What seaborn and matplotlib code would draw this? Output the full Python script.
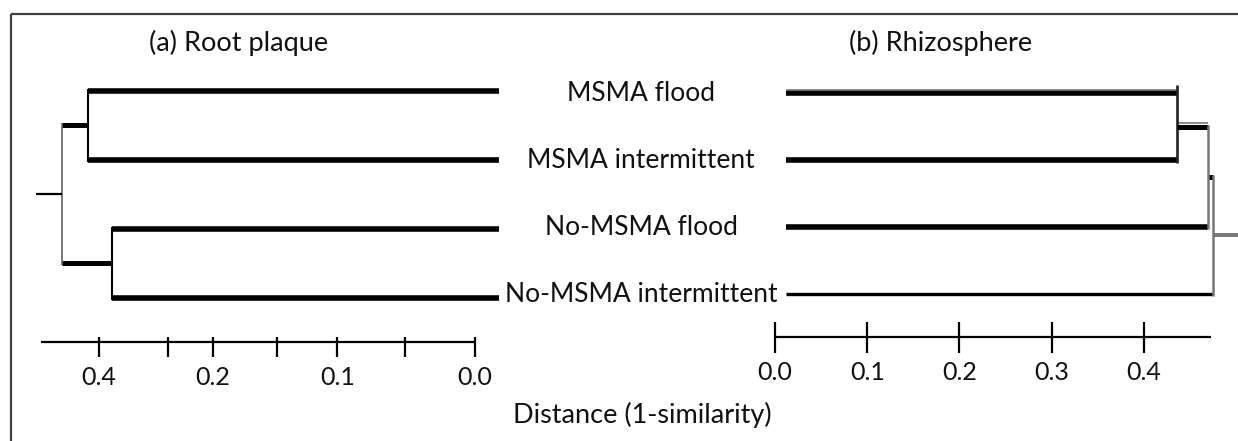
import matplotlib
matplotlib.use("Agg")
import matplotlib.pyplot as plt
from matplotlib.lines import Line2D
import matplotlib.transforms as mtransforms
import pandas as pd
import seaborn as sns

# Treatments, listed top to bottom as the dendrogram leaves
treatments = ["MSMA flood", "MSMA intermittent", "No-MSMA flood", "No-MSMA intermittent"]

# (a) Root plaque: merge heights, distance (1 - similarity)
plaque_msma = 0.412      # MSMA flood + MSMA intermittent
plaque_nomsma = 0.386    # No-MSMA flood + No-MSMA intermittent
plaque_root = 0.439      # both treatment groups

# (b) Rhizosphere: merge heights
rhizo_msma = 0.436       # MSMA flood + MSMA intermittent
rhizo_flood = 0.469      # ... + No-MSMA flood
rhizo_root = 0.475       # ... + No-MSMA intermittent

# Scale bars
plaque_tick_pos = [0.4, 0.327, 0.279, 0.21, 0.146, 0.074, 0.0]
plaque_tick_labels = ["0.4", "", "0.2", "", "0.1", "", "0.0"]
rhizo_tick_pos = [0.0, 0.1, 0.2, 0.3, 0.4]
rhizo_tick_labels = ["0.0", "0.1", "0.2", "0.3", "0.4"]

titles = ["(a) Root plaque", "(b) Rhizosphere"]
xlabel = "Distance (1-similarity)"

sns.set_theme(style="white")
FONT = ["Lato", "DejaVu Sans"]
plt.rcParams["font.family"] = FONT

W, H = 1238, 441
fig = plt.figure(figsize=(W / 100, H / 100), dpi=100)
fig.patch.set_facecolor("white")
fig.patch.set_linewidth(0)

ax_a = fig.add_axes([0, 0, 1, 1])
ax_b = fig.add_axes([0, 0, 1, 1])
for ax in (ax_a, ax_b):
    ax.set_axis_off()
    ax.patch.set_alpha(0)

# left panel runs right-to-left, right panel left-to-right
ax_a.set_xlim(0.5055, -0.8133)
ax_a.set_ylim(5.077, -1.314)
ax_b.set_xlim(-0.8401, 0.5019)
ax_b.set_ylim(5.197, -1.395)

BLACK = "#000000"
DARK = "#222222"
GREY = "#777777"
TEXT = "#111111"

LEAF_A = -0.026   # leaf tips of panel (a), just past the 0.0 tick
LEAF_B = 0.0115   # leaf tips of panel (b)


def segs_to_frame(segs):
    rows = []
    for i, (x0, y0, x1, y1, style) in enumerate(segs):
        rows.append(dict(seg=i, x=x0, y=y0, style=style))
        rows.append(dict(seg=i, x=x1, y=y1, style=style))
    return pd.DataFrame(rows)


STYLES = {
    "leaf": dict(color=BLACK, lw=4.0),
    "leaf_thin": dict(color=BLACK, lw=2.4),
    "link": dict(color=BLACK, lw=3.6),
    "join": dict(color=BLACK, lw=1.5),
    "join_dark": dict(color=DARK, lw=1.9),
    "root": dict(color="#555555", lw=1.1),
    "grey_join": dict(color=GREY, lw=1.8),
    "grey_stub": dict(color=GREY, lw=2.8),
    "stub": dict(color=BLACK, lw=1.6),
    "edge": dict(color=GREY, lw=1.2),
}


def draw(ax, df):
    xl, yl = ax.get_xlim(), ax.get_ylim()
    for style, sub in df.groupby("style", sort=False):
        st = STYLES[style]
        sns.lineplot(data=sub, x="x", y="y", units="seg", estimator=None,
                     sort=False, ax=ax, color=st["color"], linewidth=st["lw"],
                     legend=False, solid_capstyle="butt")
    ax.set_xlim(xl)
    ax.set_ylim(yl)
    ax.set_axis_off()


# ---- (a) Root plaque dendrogram
segs_a = [
    (plaque_msma, 0, LEAF_A, 0, "leaf"),
    (plaque_msma, 1, LEAF_A, 1, "leaf"),
    (plaque_nomsma, 2, LEAF_A, 2, "leaf"),
    (plaque_nomsma, 3, LEAF_A, 3, "leaf"),
    (plaque_msma, -0.03, plaque_msma, 1.03, "join"),
    (plaque_nomsma, 1.97, plaque_nomsma, 3.03, "join"),
    (plaque_root, 0.5, plaque_msma, 0.5, "link"),
    (plaque_root, 2.5, plaque_nomsma, 2.5, "link"),
    (plaque_root, 0.47, plaque_root, 2.53, "root"),
    (plaque_root + 0.028, 1.5, plaque_root, 1.5, "stub"),
]
draw(ax_a, segs_to_frame(segs_a))

# ---- (b) Rhizosphere dendrogram
mid_b1 = 0.5
mid_b2 = (mid_b1 + 2) / 2
mid_b3 = (mid_b2 + 3) / 2
segs_b = [
    (LEAF_B, 0, rhizo_msma, 0, "leaf"),
    (LEAF_B, -0.05, rhizo_msma, -0.05, "edge"),
    (LEAF_B, 1, rhizo_msma, 1, "leaf"),
    (LEAF_B, 2, rhizo_flood, 2, "leaf"),
    (LEAF_B, 3, rhizo_root, 3, "leaf_thin"),
    (rhizo_msma, -0.12, rhizo_msma, 1.04, "join_dark"),
    (rhizo_msma, mid_b1, rhizo_flood, mid_b1, "link"),
    (rhizo_msma, mid_b1 - 0.05, rhizo_flood, mid_b1 - 0.05, "edge"),
    (rhizo_flood, mid_b1 - 0.03, rhizo_flood, 2.03, "grey_join"),
    (rhizo_flood, mid_b2, rhizo_root, mid_b2, "link"),
    (rhizo_root, mid_b2 - 0.03, rhizo_root, 3.03, "grey_join"),
    (rhizo_root, mid_b3, 0.5019, mid_b3, "grey_stub"),
]
draw(ax_b, segs_to_frame(segs_b))

# ---- scale bars
BAR_Y = 3.64
bar_a = [(0.462, BAR_Y, 0.0, BAR_Y, "stub")]
bar_a += [(p, 3.57, p, 3.86, "stub") for p in plaque_tick_pos]
draw(ax_a, segs_to_frame(bar_a))
for p, lab in zip(plaque_tick_pos, plaque_tick_labels):
    if lab:
        ax_a.text(p, 4.16, lab, ha="center", va="center", fontsize=18, color=TEXT)

bar_b = [(0.0, BAR_Y, 0.4723, BAR_Y, "stub")]
bar_b += [(p, 3.42, p, 3.88, "stub") for p in rhizo_tick_pos]
draw(ax_b, segs_to_frame(bar_b))
for p, lab in zip(rhizo_tick_pos, rhizo_tick_labels):
    ax_b.text(p, 4.18, lab, ha="center", va="center", fontsize=18, color=TEXT)

# ---- leaf labels, centred between the two panels
trans = mtransforms.blended_transform_factory(fig.transFigure, ax_b.transData)
for i, name in enumerate(treatments):
    ax_b.text(641 / W, i, name, transform=trans, ha="center", va="center",
              fontsize=19, color=TEXT)

# ---- titles and axis caption
fig.text(239 / W, 1 - 43 / H, titles[0], ha="center", va="center", fontsize=19.5, color=TEXT)
fig.text(941 / W, 1 - 43 / H, titles[1], ha="center", va="center", fontsize=19.5, color=TEXT)
fig.text(642 / W, 1 - 415 / H, xlabel, ha="center", va="center", fontsize=19.5, color=TEXT)

# ---- frame (top and left edges)
fig.add_artist(Line2D([11 / W, 1.0], [1 - 14 / H, 1 - 14 / H], transform=fig.transFigure,
                      color="#404040", lw=1.6, solid_capstyle="butt"))
fig.add_artist(Line2D([11 / W, 11 / W], [1 - 14 / H, 0.0], transform=fig.transFigure,
                      color="#404040", lw=1.6, solid_capstyle="butt"))

fig.savefig("out.png", dpi=100, facecolor="white")
